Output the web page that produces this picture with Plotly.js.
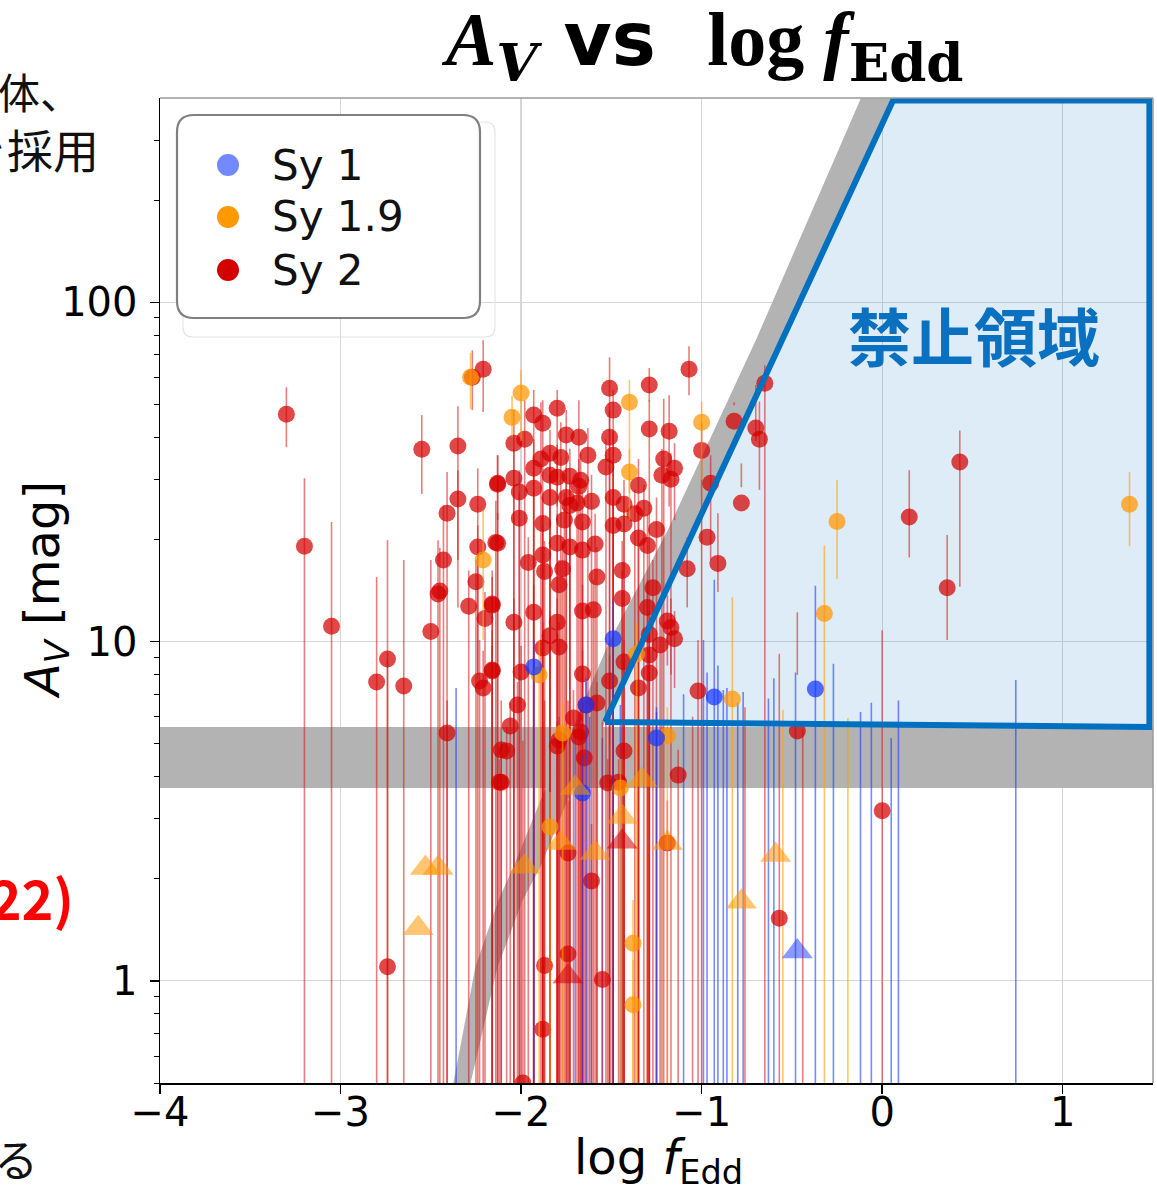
<!DOCTYPE html>
<html><head><meta charset="utf-8">
<script src="https://cdn.plot.ly/plotly-3.0.1.min.js"></script>
<style>html,body{margin:0;padding:0;background:#fff}</style>
</head><body><div id="chart" style="width:1157px;height:1186px"></div>
<script>
// ---------- DATA (log f_Edd, A_V, upper end of error bar, lower end of error bar; 0.01 = reaches bottom) ----------
const sy2LogF = [-3.30,-3.20,-3.05,-2.55,-2.35,-2.27,-2.21,-2.35,-2.41,-2.24,-2.13,-2.14,-2.24,-2.43,-2.25,-2.45,-2.46,-2.29,-2.16,-2.20,-2.50,-2.74,-2.80,-2.65,-2.41,-2.23,-2.21,-2.16,-2.11,-2.11,-2.74,-1.87,-1.74,-1.55,-1.88,-1.99,-1.93,-1.88,-1.80,-2.04,-1.98,-1.75,-1.68,-1.51,-1.49,-1.29,-1.07,-1.00,-1.51,-1.29,-1.18,-2.13,-2.04,-2.01,-1.93,-1.89,-1.84,-1.78,-1.63,-1.49,-1.53,-1.21,-1.15,-1.22,-1.17,-1.93,-1.84,-1.80,-1.73,-1.67,-1.68,-1.84,-1.75,-1.73,-1.69,-1.61,-1.49,-1.35,-1.43,-1.32,-1.37,-2.01,-1.88,-1.76,-1.66,-1.49,-1.43,-1.25,-0.95,-2.13,-1.88,-1.80,-1.73,-1.66,-1.59,-1.35,-1.30,-1.96,-1.87,-1.77,-1.79,-1.58,-1.44,-1.44,-1.27,-1.08,-2.16,-2.04,-1.93,-1.80,-1.66,-1.60,-1.30,-1.19,-1.17,-1.15,-1.84,-1.79,-1.88,-1.29,-1.23,-1.29,-1.43,-2.16,-2.00,-1.66,-1.29,-1.51,-1.35,-1.02,-2.02,-2.06,-1.64,-1.71,-1.58,-1.67,-1.79,-2.08,-2.12,-1.80,-1.68,-1.65,-1.43,-1.13,-1.52,-1.46,-1.74,-1.61,-1.19,-0.65,-0.82,-0.70,-0.68,-0.78,0.15,0.43,-0.97,-0.91,0.36,-0.47,0.00,-0.57];
const sy2Av   = [46.8,19.1,11.1,36.9,37.7,60.1,63.5,26.3,23.9,25.4,29.1,19.6,19.0,17.4,15.0,14.1,13.8,12.7,12.9,11.7,10.7,8.88,7.60,7.40,5.38,7.65,7.30,8.19,4.79,3.85,1.10,1.11,1.20,1.01,0.72,0.50,46.5,44.0,48.7,38.4,39.5,40.6,40.0,55.8,48.1,57.0,63.5,36.6,40.0,42.3,41.7,29.3,30.3,27.6,32.4,34.5,35.9,34.9,35.4,35.4,32.7,34.5,32.4,30.9,30.1,28.3,30.9,30.5,30.7,29.9,28.7,26.6,26.6,25.2,25.6,25.9,26.6,28.9,25.4,24.7,23.8,23.1,22.3,22.8,22.5,22.0,22.2,21.4,29.3,19.5,18.0,19.5,19.0,18.6,19.4,20.2,19.2,17.1,16.1,16.4,14.7,15.5,16.2,13.4,14.4,16.4,12.8,11.4,12.2,11.4,12.3,12.4,12.6,11.5,11.0,10.2,10.4,9.64,9.57,10.5,9.77,9.13,8.70,8.24,8.13,8.02,8.08,7.65,7.30,7.15,6.50,5.64,6.50,5.95,6.59,5.41,5.13,4.76,3.85,4.92,5.23,4.54,4.76,4.04,3.83,3.85,2.38,1.97,2.55,57.7,44.6,42.6,39.5,25.6,23.3,33.8,20.3,17.0,14.4,5.45,3.17,1.53];
const sy2AvHi = [56.2,30.3,22.5,46.5,49.4,72.2,77.3,32.0,31.6,32.4,35.4,26.0,22.0,25.2,17.4,18.9,19.9,16.2,16.2,14.0,17.4,19.9,15.5,17.4,6.7,10.1,9.4,10.8,6.7,5.1,8.8,6.7,6.7,5.8,5.8,5.1,55.1,51.4,55.1,48.1,51.4,48.1,51.4,68.9,55.1,64.0,74.2,44.3,48.1,51.4,53.2,35.4,37.0,32.0,39.5,50.7,42.0,44.3,42.6,41.7,39.5,52.0,38.4,37.0,35.9,34.0,37.0,38.0,37.0,35.9,34.5,32.4,32.4,30.0,30.0,31.0,32.4,34.5,30.0,29.0,28.0,27.5,26.6,27.5,27.5,26.6,26.6,26.6,35.4,23.9,22.0,23.8,23.8,22.6,23.8,24.5,23.8,20.3,19.8,19.8,17.4,19.0,19.8,16.2,17.4,20.3,15.5,13.4,14.7,13.4,14.7,15.2,15.2,13.7,13.4,12.3,12.3,11.4,11.4,12.3,11.4,10.7,10.1,9.7,9.7,9.4,9.4,9.1,8.7,10.1,7.6,6.6,7.6,7.2,7.6,6.4,6.0,5.6,4.5,5.8,6.2,5.4,5.6,4.8,4.5,4.5,3.4,2.9,3.4,65.2,50.7,57.0,51.0,33.5,32.0,41.9,26.6,23.9,20.6,12.2,10.8,9.2];
const sy2AvLo = [37.4,0.01,0.01,27.2,12.6,48.1,47.5,17.4,0.01,8.0,22.8,0.01,0.01,0.01,0.01,0.01,0.01,0.01,0.01,0.01,0.01,0.01,0.01,0.01,0.01,0.01,0.01,0.01,0.01,0.01,0.01,0.01,0.01,0.01,0.01,0.01,0.01,0.01,25,0.01,0.01,0.01,25,0.01,0.01,51.0,53.2,0.01,0.01,0.01,25,0.01,0.01,0.01,0.01,0.01,0.01,0.01,0.01,0.01,0.01,0.01,22.8,0.01,0.01,0.01,0.01,0.01,0.01,0.01,0.01,0.01,0.01,0.01,0.01,0.01,0.01,0.01,0.01,0.01,0.01,0.01,0.01,0.01,0.01,0.01,0.01,0.01,17.4,0.01,0.01,0.01,0.01,0.01,0.01,0.01,0.01,0.01,0.01,0.01,0.01,0.01,0.01,0.01,0.01,12.6,0.01,0.01,0.01,0.01,0.01,0.01,0.01,8.5,8.0,7.3,0.01,0.01,0.01,0.01,0.01,0.01,0.01,0.01,0.01,0.01,0.01,0.01,0.01,0.01,0.01,0.01,0.01,0.01,0.01,0.01,0.01,0.01,0.01,0.01,0.01,0.01,0.01,0.01,0.01,0.01,0.01,0.01,0.01,0.01,49.7,39.0,28.0,28.5,17.7,14.5,25.8,14.0,10.1,7.97,0.01,0.01,0.01];

const sy19LogF = [-2.28,-2.00,-2.05,-1.40,-1.40,-1.00,-2.21,-1.90,-1.77,-1.19,-1.36,-1.45,-1.84,-1.38,-1.38,-0.83,-0.32,-0.25,1.37];
const sy19Av   = [60.1,54.0,45.8,50.7,31.6,44.3,17.4,7.97,5.38,5.27,9.19,3.70,2.84,1.29,0.85,6.77,12.1,22.6,25.4];
const sy19AvHi = [71.0,63.0,53.0,59.0,37.0,51.0,24.5,10.1,6.6,6.4,11.4,4.5,3.6,1.73,1.15,13.5,19.2,29.9,31.6];
const sy19AvLo = [48.5,39.0,40.0,27.4,22.8,30.0,10.1,0.01,0.01,0.01,0.01,0.01,0.01,0.01,0.01,0.01,0.01,15.3,19.1];

const sy1LogF = [-1.49,-1.93,-1.64,-1.25,-1.66,-0.93,-0.37];
const sy1Av   = [10.2,8.41,6.50,5.20,3.58,6.87,7.25];
const sy1AvHi = [13.2,10.1,7.8,6.4,4.6,15.2,14.6];
const sy1AvLo = [0.01,0.01,0.01,0.01,0.01,0.01,0.01];

// sources whose A_V lies below the plotted range (only the upper part of the error bar is visible)
const sy1LowLogF = [-2.36,-1.70,-1.62,-1.55,-1.45,-1.35,-1.25,-1.10,-0.99,-0.97,-0.91,-0.88,-0.86,-0.80,-0.77,-0.63,-0.60,-0.48,-0.27,-0.12,-0.06,0.05,0.09,0.74];
const sy1LowAv   = [0.3,0.3,0.3,0.3,0.3,0.3,0.3,0.3,0.3,0.3,0.3,0.3,0.3,0.3,0.3,0.3,0.3,0.3,0.3,0.3,0.3,0.3,0.3,0.3];
const sy1LowHi   = [7.3,5.5,6.0,5.2,6.5,5.8,6.2,7.0,10.1,8.1,8.5,7.2,7.3,6.6,7.1,6.8,7.8,8.1,8.6,6.2,6.6,5.2,6.7,7.7];
const sy19LowLogF = [-0.55,-0.19,-1.50,-1.30];
const sy19LowAv   = [0.3,0.3,0.3,0.3];
const sy19LowHi   = [6.3,5.95,6.0,5.5];
const sy2LowLogF = [-0.76,-0.44,-1.05];
const sy2LowAv   = [0.3,0.3,0.3];
const sy2LowHi   = [6.4,5.5,6.0];

// upper limits (triangles)
const sy19LimLogF = [-2.57,-2.53,-2.46,-1.98,-1.78,-1.70,-1.59,-1.44,-1.33,-1.19,-0.78,-0.59];
const sy19LimAv   = [1.43,2.15,2.15,2.17,2.55,3.70,2.38,3.04,3.91,2.55,1.71,2.35];
const sy2LimLogF = [-1.74,-1.44];
const sy2LimAv   = [1.03,2.57];
const sy1LimLogF = [-0.47];
const sy1LimAv   = [1.22];

// reference regions
const hBandAv = [3.7, 5.6];                 // horizontal grey band in A_V
const xFull = [-4, 1.5];
const curveLeftLogF  = [-2.375,-2.253,-2.125,-2.042,-1.892,-1.765,-1.515,-1.188,-0.700,-0.118];
const curveLeftAv    = [0.5,1.10,1.73,2.17,3.41,4.79,9.91,21.3,77.3,399];
const curveRightLogF = [0.066,-1.535,-1.614,-1.742,-1.892,-1.991,-2.130,-2.280];
const curveRightAv   = [399,5.79,4.79,3.41,2.17,1.73,1.10,0.5];
const forbidLogF = [-1.535,0.060,1.48,1.48,-1.535];
const forbidAv   = [5.79,393,393,5.6,5.79];

const legendNames = ['Sy 1','Sy 1.9','Sy 2'];

// ---------- build ----------
const LAT = '"DejaVu Sans", sans-serif';
const CJK = '"Noto Sans CJK JP", sans-serif';
function pts(x, y, hi, lo, color, ecolor, name, symbol, size, op){
  return {
    type:'scatter', mode:'markers', x:x, y:y, name:name, showlegend:false, hoverinfo:'skip',
    marker:{color:color, size:size, symbol:symbol, opacity:op, line:{width:0}},
    error_y: hi ? {type:'data', symmetric:false,
      array: hi.map((h,i)=>h - y[i]), arrayminus: lo.map((l,i)=>y[i]-l),
      color: ecolor, thickness:1.6, width:0} : {visible:false}
  };
}
const RED='rgb(212,0,0)', ORG='rgb(255,150,0)', BLU='rgb(20,55,255)';
const RED_E='rgba(215,20,20,0.55)', ORG_E='rgba(255,160,0,0.6)', BLU_E='rgba(30,60,255,0.6)';
const lowLo = a => a.map(()=>0.01);

const traces = [
  {type:'scatter', mode:'lines', x:[xFull[0],xFull[1],xFull[1],xFull[0]], y:[hBandAv[0],hBandAv[0],hBandAv[1],hBandAv[1]],
   fill:'toself', fillcolor:'#b3b3b3', line:{width:0}, showlegend:false, hoverinfo:'skip'},
  {type:'scatter', mode:'lines', x:curveLeftLogF.concat(curveRightLogF), y:curveLeftAv.concat(curveRightAv),
   fill:'toself', fillcolor:'#b3b3b3', line:{width:0}, showlegend:false, hoverinfo:'skip'},
  {type:'scatter', mode:'lines', x:forbidLogF, y:forbidAv, fill:'toself', fillcolor:'rgba(0,112,192,0.13)',
   line:{width:0}, showlegend:false, hoverinfo:'skip'},
  pts(sy2LowLogF, sy2LowAv, sy2LowHi, lowLo(sy2LowAv), RED, RED_E, 'Sy 2', 'circle', 17, 0.75),
  pts(sy19LowLogF, sy19LowAv, sy19LowHi, lowLo(sy19LowAv), ORG, ORG_E, 'Sy 1.9', 'circle', 17, 0.75),
  pts(sy1LowLogF, sy1LowAv, sy1LowHi, lowLo(sy1LowAv), BLU, BLU_E, 'Sy 1', 'circle', 17, 0.75),
  pts(sy2LogF, sy2Av, sy2AvHi, sy2AvLo, RED, RED_E, 'Sy 2', 'circle', 17, 0.72),
  pts(sy19LogF, sy19Av, sy19AvHi, sy19AvLo, ORG, ORG_E, 'Sy 1.9', 'circle', 17, 0.72),
  pts(sy1LogF, sy1Av, sy1AvHi, sy1AvLo, BLU, BLU_E, 'Sy 1', 'circle', 17, 0.72),
  pts(sy19LimLogF, sy19LimAv, null, null, ORG, null, 'Sy 1.9', 'triangle-up', 27, 0.55),
  pts(sy2LimLogF, sy2LimAv, null, null, RED, null, 'Sy 2', 'triangle-up', 27, 0.55),
  pts(sy1LimLogF, sy1LimAv, null, null, BLU, null, 'Sy 1', 'triangle-up', 27, 0.5),
  {type:'scatter', mode:'lines', x:forbidLogF, y:forbidAv, line:{color:'#0070c0', width:6},
   showlegend:false, hoverinfo:'skip'}
];

// legend (drawn manually to match the rounded box)
const W=993, H=985;
const px = v => (v-160)/W, py = v => (1083-v)/H;
function roundRect(x0,y0,x1,y1,r){
  const rx=r/W, ry=r/H; const X0=px(x0),X1=px(x1),Y0=py(y0),Y1=py(y1);
  return `M${X0+rx},${Y0} L${X1-rx},${Y0} Q${X1},${Y0} ${X1},${Y0-ry} L${X1},${Y1+ry} Q${X1},${Y1} ${X1-rx},${Y1} `+
         `L${X0+rx},${Y1} Q${X0},${Y1} ${X0},${Y1+ry} L${X0},${Y0-ry} Q${X0},${Y0} ${X0+rx},${Y0} Z`;
}
const legendColors = ['#7289ff','#ff9900','#d40000'];
const legendRowsY = [165,217,270];
const shapes = [
  {type:'path', xref:'paper', yref:'paper', path:roundRect(183,122,495,337,10), line:{color:'#e4e4e4', width:1.2}, fillcolor:'rgba(0,0,0,0)', layer:'above'},
  {type:'path', xref:'paper', yref:'paper', path:roundRect(177,115,480,318,17), line:{color:'#808080', width:2.2}, fillcolor:'#ffffff', layer:'above'},
  {type:'line', xref:'paper', yref:'paper', x0:0, x1:1, y0:1, y1:1, line:{color:'#9a9a9a', width:1.5}, layer:'above'},
  {type:'line', xref:'paper', yref:'paper', x0:1, x1:1, y0:0, y1:1, line:{color:'#9a9a9a', width:1.5}, layer:'above'}
];
legendRowsY.forEach((yy,i)=>{
  shapes.push({type:'circle', xref:'paper', yref:'paper', x0:px(217), x1:px(239), y0:py(yy+11), y1:py(yy-11),
    fillcolor:legendColors[i], line:{width:0}, layer:'above'});
});
const annotations = legendNames.map((n,i)=>({xref:'paper', yref:'paper', x:px(270), y:py(legendRowsY[i]),
  xanchor:'left', yanchor:'middle', text:n, showarrow:false, font:{family:LAT, size:42, color:'#111'}}));
annotations.push({xref:'paper', yref:'paper', x:px(974), y:py(333), xanchor:'center', yanchor:'middle',
  text:'<b>禁止領域</b>', showarrow:false, font:{family:CJK, size:63, color:'#0a70c0'}});
// axis titles placed precisely
annotations.push({xref:'paper', yref:'paper', x:px(45), y:py(590), xanchor:'center', yanchor:'middle', textangle:-90,
  text:'<i>A</i><sub><i>V</i></sub> [mag]', showarrow:false, font:{family:LAT, size:48, color:'#000'}});
annotations.push({xref:'paper', yref:'paper', x:px(658), y:py(1160), xanchor:'center', yanchor:'middle',
  text:'log <i>f</i><sub>Edd</sub>', showarrow:false, font:{family:LAT, size:48, color:'#000'}});
// fragments of surrounding slide text cut by the image edge
annotations.push({xref:'paper', yref:'paper', x:px(84), y:py(90), xanchor:'right', yanchor:'middle', text:'体、', showarrow:false, font:{family:CJK, size:42, color:'#111'}});
annotations.push({xref:'paper', yref:'paper', x:px(101), y:py(148), xanchor:'right', yanchor:'middle', text:'を採用', showarrow:false, font:{family:CJK, size:46, color:'#111'}});
annotations.push({xref:'paper', yref:'paper', x:px(76), y:py(896), xanchor:'right', yanchor:'middle', text:'<b>2022)</b>', showarrow:false, font:{family:CJK, size:54, color:'#ff0000'}});
annotations.push({xref:'paper', yref:'paper', x:px(40), y:py(1158), xanchor:'right', yanchor:'middle', text:'いる', showarrow:false, font:{family:CJK, size:44, color:'#111'}});

const minorY = [0.5,0.6,0.7,0.8,0.9,2,3,4,5,6,7,8,9,20,30,40,50,60,70,80,90,200,300];

const titleText =
  '<b><i>A</i><sub><span style="font-family:DejaVu Serif"><i>V</i></span></sub></b>' +
  '<span style="font-family:DejaVu Sans;font-size:74px"><b>\u00a0vs\u00a0\u00a0</b></span>' +
  '<b>log\u00a0<i>f</i><sub><span style="font-family:DejaVu Serif">Edd</span></sub></b>';

const layout = {
  width:1157, height:1186,
  margin:{l:160, r:4, t:98, b:103},
  paper_bgcolor:'#fff', plot_bgcolor:'#fff',
  showlegend:false,
  title:{text:titleText, x:0.609, xref:'container', xanchor:'center', y:0.968, yref:'container', yanchor:'middle',
    font:{family:'"Liberation Serif", serif', size:76, color:'#000'}},
  xaxis:{range:[-4,1.5], dtick:1, tick0:0, ticks:'outside', ticklen:9, tickwidth:1.5, tickcolor:'#000',
    showline:true, linecolor:'#000', linewidth:1.5, zeroline:false,
    showgrid:true, gridcolor:'#d6d6d6', gridwidth:1.2,
    tickfont:{family:LAT, size:40, color:'#000'}, ticklabelstandoff:-16,
    automargin:false},
  yaxis:{type:'log', range:[Math.log10(0.5), Math.log10(400)], dtick:1, ticks:'outside', ticklen:9, tickwidth:1.5, tickcolor:'#000',
    showline:true, linecolor:'#000', linewidth:1.5, zeroline:false,
    showgrid:true, gridcolor:'#d6d6d6', gridwidth:1.2,
    tickfont:{family:LAT, size:40, color:'#000'}, ticklabelstandoff:4,
    minor:{tickvals:minorY, ticks:'outside', ticklen:5, tickwidth:1, tickcolor:'#000', showgrid:false},
    automargin:false},
  shapes:shapes, annotations:annotations
};
Plotly.newPlot('chart', traces, layout, {staticPlot:true, displayModeBar:false});
</script></body></html>
